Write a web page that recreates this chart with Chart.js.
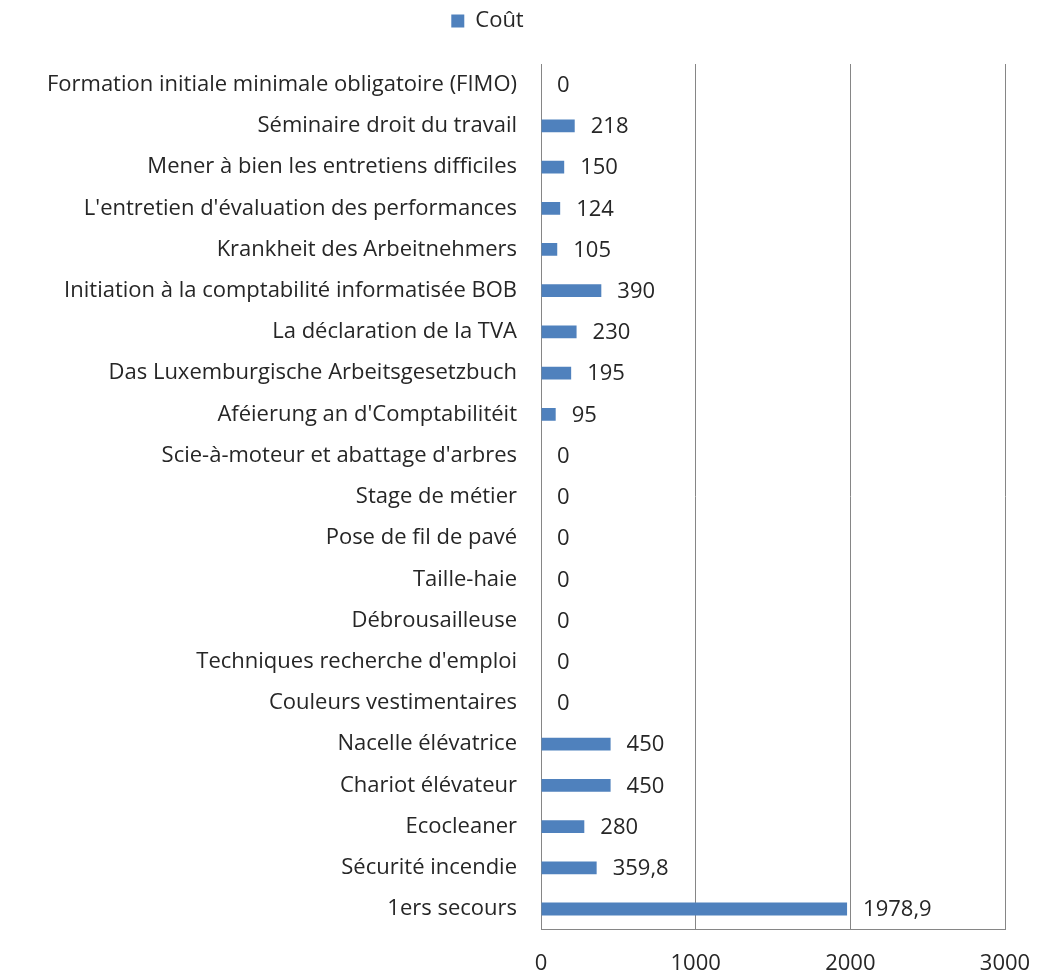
<!DOCTYPE html>
<html>
<head>
<meta charset="utf-8">
<script src="https://cdn.jsdelivr.net/npm/chart.js@4.4.1/dist/chart.umd.min.js"></script>
<style>
  body { margin: 0; background: #fff; }
  #wrap { width: 1037px; height: 978px; }
</style>
</head>
<body>
<div id="wrap"><canvas id="myChart"></canvas></div>
<script>
const categories = [
  "Formation initiale minimale obligatoire (FIMO)",
  "Séminaire droit du travail",
  "Mener à bien les entretiens difficiles",
  "L'entretien d'évaluation des performances",
  "Krankheit des Arbeitnehmers",
  "Initiation à la comptabilité informatisée BOB",
  "La déclaration de la TVA",
  "Das Luxemburgische Arbeitsgesetzbuch",
  "Aféierung an d'Comptabilitéit",
  "Scie-à-moteur et abattage d'arbres",
  "Stage de métier",
  "Pose de fil de pavé",
  "Taille-haie",
  "Débrousailleuse",
  "Techniques recherche d'emploi",
  "Couleurs vestimentaires",
  "Nacelle élévatrice",
  "Chariot élévateur",
  "Ecocleaner",
  "Sécurité incendie",
  "1ers secours"
];
const cout = [0, 218, 150, 124, 105, 390, 230, 195, 95, 0, 0, 0, 0, 0, 0, 0, 450, 450, 280, 359.8, 1978.9];
const xTicks = [0, 1000, 2000, 3000];

const FONT = "'Open Sans', sans-serif";
const SIZE = 22;
const TEXT = "#262626";
const GRID = "#868686";

// value labels at the end of each bar
const barLabels = {
  id: "barLabels",
  afterDatasetsDraw(chart) {
    const c = chart.ctx;
    c.save();
    c.font = SIZE + "px " + FONT;
    c.fillStyle = TEXT;
    c.textBaseline = "middle";
    chart.getDatasetMeta(0).data.forEach((bar, i) => {
      const txt = String(cout[i]).replace(".", ",");
      c.fillText(txt, bar.x + 16, bar.y + 1);
    });
    c.restore();
  }
};

// more room under the legend, and move it a bit left like the original
const legendNudge = {
  id: "legendNudge",
  beforeInit(chart) {
    const lg = chart.legend;
    if (!lg) return;
    const fit = lg.fit;
    lg.fit = function () {
      fit.call(this);
      this.height += 22;
    };
    const draw = lg.draw;
    lg.draw = function () {
      const c = this.ctx;
      c.save();
      c.translate(-31, 0);
      draw.call(this);
      c.restore();
    };
  }
};

const ctx = document.getElementById("myChart");
new Chart(ctx, {
  type: "bar",
  data: {
    labels: categories,
    datasets: [{
      label: "Coût",
      data: cout,
      backgroundColor: "#4F81BD",
      barPercentage: 0.62,
      categoryPercentage: 0.5
    }]
  },
  options: {
    indexAxis: "y",
    responsive: true,
    maintainAspectRatio: false,
    animation: false,
    layout: { padding: { top: 0, right: 0, bottom: -20, left: 0 } },
    plugins: {
      legend: {
        labels: {
          font: { family: FONT, size: SIZE },
          color: TEXT,
          boxWidth: 13,
          boxHeight: 13,
          padding: 10
        }
      },
      tooltip: { enabled: false }
    },
    scales: {
      x: {
        min: xTicks[0],
        max: xTicks[xTicks.length - 1],
        afterBuildTicks(axis) {
          axis.ticks = xTicks.map(v => ({ value: v }));
        },
        afterFit(axis) {
          axis.paddingRight = 32;
        },
        ticks: {
          callback: v => String(v),
          font: { family: FONT, size: SIZE },
          color: TEXT,
          padding: 21
        },
        grid: { color: GRID, drawTicks: false },
        border: { color: GRID }
      },
      y: {
        afterFit(axis) {
          axis.width = 541;
        },
        ticks: {
          font: { family: FONT, size: SIZE },
          color: TEXT,
          padding: 16,
          autoSkip: false
        },
        grid: { display: false },
        border: { color: GRID }
      }
    }
  },
  plugins: [barLabels, legendNudge]
});
</script>
</body>
</html>
